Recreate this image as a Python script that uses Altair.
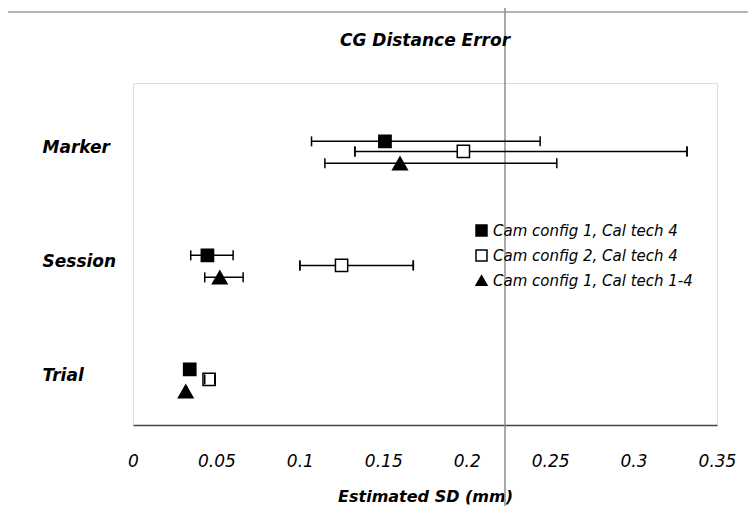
import altair as alt
import pandas as pd

# ---------------- data ----------------
categories = ["Marker", "Session", "Trial"]
series_names = [
    "Cam config 1, Cal tech 4",
    "Cam config 2, Cal tech 4",
    "Cam config 1, Cal tech 1-4",
]

# estimated SD and error-bar ends, per category (Marker, Session, Trial)
cfg1_tech4_sd = [0.151, 0.0446, 0.034]
cfg1_tech4_low = [0.107, 0.0346, 0.0325]
cfg1_tech4_high = [0.244, 0.0600, 0.0355]

cfg2_tech4_sd = [0.198, 0.125, 0.0456]
cfg2_tech4_low = [0.133, 0.100, 0.0430]
cfg2_tech4_high = [0.332, 0.168, 0.0490]

cfg1_tech14_sd = [0.160, 0.052, 0.0316]
cfg1_tech14_low = [0.115, 0.043, 0.0311]
cfg1_tech14_high = [0.254, 0.066, 0.0321]

x_ticks = [0, 0.05, 0.1, 0.15, 0.2, 0.25, 0.3, 0.35]
chart_title = "CG Distance Error"
x_title = "Estimated SD (mm)"

# ---------------- styles ----------------
FONT = "DejaVu Sans"
series_shift = [0.088, 0.0, -0.105]       # vertical offset of each series inside a row
series_shapes = ["square", "square", "triangle-up"]
series_fills = ["black", "white", "black"]

sd_lists = [cfg1_tech4_sd, cfg2_tech4_sd, cfg1_tech14_sd]
low_lists = [cfg1_tech4_low, cfg2_tech4_low, cfg1_tech14_low]
high_lists = [cfg1_tech4_high, cfg2_tech4_high, cfg1_tech14_high]

records = []
n = len(categories)
for s, name in enumerate(series_names):
    for i, cat in enumerate(categories):
        row = n - i
        records.append({
            "category": cat,
            "series": name,
            "sd": sd_lists[s][i],
            "low": low_lists[s][i],
            "high": high_lists[s][i],
            "ypos": row + series_shift[s],
        })
df = pd.DataFrame(records)

label_expr = " : ".join(
    f"datum.value == {n - i} ? '{c}'" for i, c in enumerate(categories[:-1])
) + f" : '{categories[-1]}'"

xscale = alt.Scale(domain=[0, 0.35], nice=False, zero=False)
yscale = alt.Scale(domain=[0.6, 3.6], nice=False, zero=False)

xaxis = alt.Axis(
    values=x_ticks, format="~g", grid=False, ticks=False,
    domain=True, domainColor="#444444", domainWidth=1.5,
    labelFont=FONT, labelFontStyle="italic", labelFontSize=17, labelColor="black",
    labelBaseline="top", labelPadding=28, labelFlush=False, labelOverlap=False,
    title=x_title, titleFont=FONT, titleFontWeight="bold",
    titleFontStyle="italic", titleFontSize=16, titleColor="black",
    titleX=292, titleY=76, titleAlign="center", titleBaseline="alphabetic",
)
yaxis = alt.Axis(
    values=[1, 2, 3], labelExpr=label_expr, grid=False, ticks=False, domain=False,
    labelFont=FONT, labelFontStyle="italic", labelFontWeight="bold",
    labelFontSize=17, labelColor="black", labelAlign="left", labelPadding=91,
    labelBaseline="middle", labelOffset=-4, title=None,
)

legend = alt.Legend(
    title=None, orient="none", legendX=341, legendY=140, padding=0,
    labelFont=FONT, labelFontStyle="italic", labelFontSize=15, labelColor="black",
    labelLimit=320, labelOffset=4, symbolSize=120, rowPadding=8,
)
shape_enc = alt.Shape("series:N", scale=alt.Scale(domain=series_names, range=series_shapes),
                      legend=legend)
fill_enc = alt.Fill("series:N", scale=alt.Scale(domain=series_names, range=series_fills),
                    legend=legend)

base = alt.Chart(df)

bars = base.mark_rule(color="black", strokeWidth=1.5).encode(
    x=alt.X("low:Q", scale=xscale, axis=xaxis),
    x2="high:Q",
    y=alt.Y("ypos:Q", scale=yscale, axis=yaxis),
)

caps = base.transform_fold(["low", "high"], as_=["end", "xv"]).mark_tick(
    orient="vertical", size=10, thickness=1.5, color="black", opacity=1
).encode(
    x=alt.X("xv:Q", scale=xscale),
    y=alt.Y("ypos:Q", scale=yscale),
)

squares = base.transform_filter(alt.datum.series != series_names[2]).mark_point(
    filled=True, opacity=1, stroke="black", strokeWidth=1.5, size=150
).encode(
    x=alt.X("sd:Q", scale=xscale),
    y=alt.Y("ypos:Q", scale=yscale),
    shape=shape_enc,
    fill=fill_enc,
)
triangles = base.transform_filter(alt.datum.series == series_names[2]).mark_point(
    filled=True, opacity=1, stroke="black", strokeWidth=1.5, size=210
).encode(
    x=alt.X("sd:Q", scale=xscale),
    y=alt.Y("ypos:Q", scale=yscale),
    shape=shape_enc,
    fill=fill_enc,
)

# caps of the open-square series stay visible inside its hollow marker
caps_open = caps.transform_filter(alt.datum.series == series_names[1])

deco = pd.DataFrame({"k": [0]})
scan_line = alt.Chart(deco).mark_rule(color="#8c8c8c", strokeWidth=1.5).encode(
    x=alt.value(372), y=alt.value(-83), y2=alt.value(431)
)
top_line = alt.Chart(deco).mark_rule(color="#6e6e6e", strokeWidth=1).encode(
    x=alt.value(-125), x2=alt.value(615), y=alt.value(-71)
)
title_text = alt.Chart(deco).mark_text(
    text=chart_title, font=FONT, fontSize=17, fontWeight="bold", fontStyle="italic",
    color="black", align="center", baseline="alphabetic",
).encode(x=alt.value(292), y=alt.value(-37))

chart = alt.layer(
    top_line, scan_line, bars, caps, squares, triangles, caps_open, title_text
).properties(
    width=584,
    height=342,
    padding={"left": 125, "top": 75, "right": 31, "bottom": 81},
    autosize=alt.AutoSizeParams(type="none"),
).configure_view(
    stroke="#9a9a9a", strokeDash=[1, 3], strokeWidth=1
).configure(background="white")

chart.save("out.html", embed_options={"renderer": "svg", "actions": False})
